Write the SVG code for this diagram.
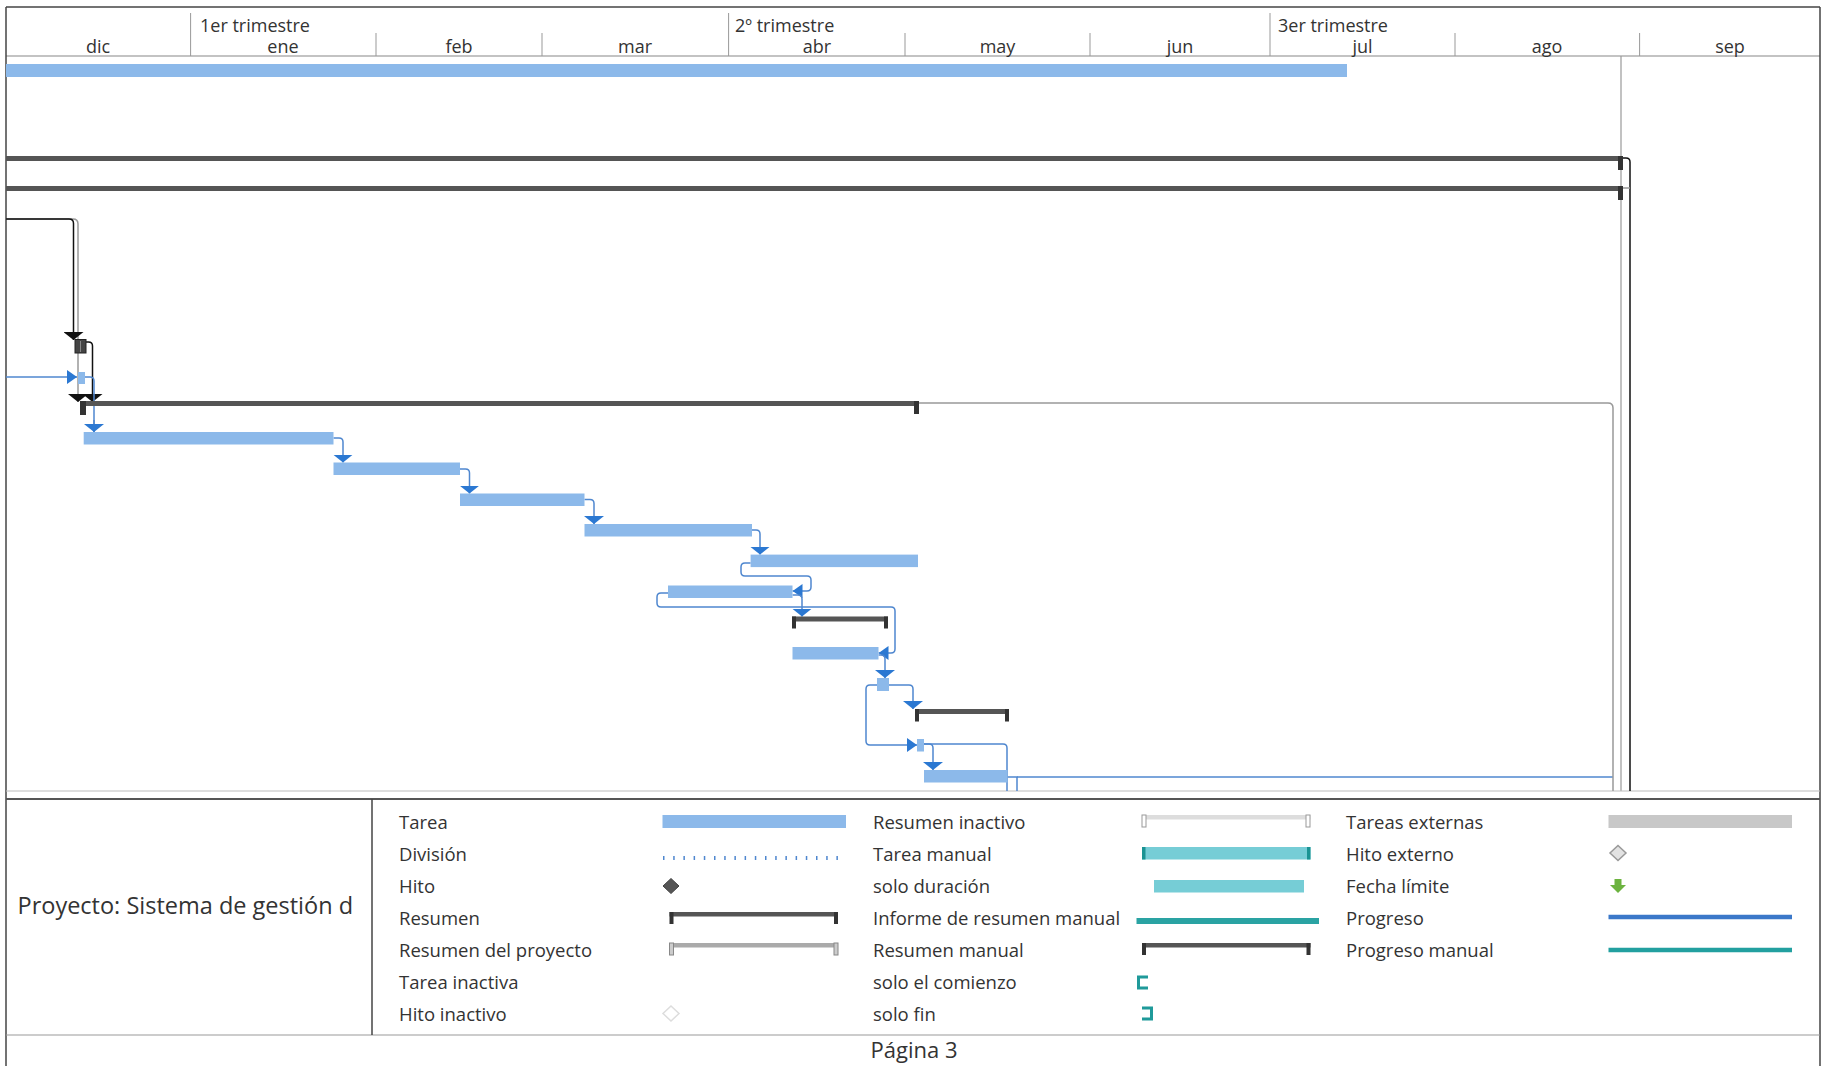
<svg xmlns="http://www.w3.org/2000/svg" width="1822" height="1066" viewBox="0 0 1822 1066">
<style>
  text { font-family: "Open Sans", "Noto Sans", "Liberation Sans", sans-serif; fill: #333; }
  .hdr { font-size: 18px; }
  .mon { font-size: 18px; text-anchor: middle; }
  .lbl { font-size: 18.5px; }
  .big { font-size: 23.5px; }
  .frame { stroke: #444; stroke-width: 1.5; fill: none; }
  .tick { stroke: #999; stroke-width: 1; }
  .bar { fill: #8cb9ea; }
  .sum { fill: #555; }
  .cap { fill: #333; }
  .lnk { stroke: #4f87cf; stroke-width: 1.5; fill: none; }
  .blk { stroke: #111; stroke-width: 1.5; fill: none; }
  .gry { stroke: #999; stroke-width: 1.5; fill: none; }
</style>
<defs>
  <!-- vertical arrowhead (blue), 20 wide x 8 long -->
  <marker id="aBv" viewBox="0 0 8 20" refX="8" refY="10" markerWidth="8" markerHeight="20" markerUnits="userSpaceOnUse" orient="auto">
    <path d="M0,0 L8,10 L0,20 Z" fill="#2b78d2"/>
  </marker>
  <!-- horizontal arrowhead (blue), narrower -->
  <marker id="aBh" viewBox="0 0 10 14" refX="10" refY="7" markerWidth="10" markerHeight="14" markerUnits="userSpaceOnUse" orient="auto">
    <path d="M0,0 L10,7 L0,14 Z" fill="#2b78d2"/>
  </marker>
  <!-- black arrowhead -->
  <marker id="aK" viewBox="0 0 8 20" refX="8" refY="10" markerWidth="8" markerHeight="20" markerUnits="userSpaceOnUse" orient="auto">
    <path d="M0,0 L8,10 L0,20 Z" fill="#111"/>
  </marker>
</defs>

<rect x="0" y="0" width="1822" height="1066" fill="#fff"/>

<!-- timescale -->
<g id="timescale">
  <line class="frame" x1="6" y1="7" x2="1820" y2="7"/>
  <line x1="6" y1="56" x2="1820" y2="56" stroke="#888" stroke-width="1.2"/>
  <g class="tick">
    <line x1="190.6" y1="13" x2="190.6" y2="56"/>
    <line x1="728.6" y1="13" x2="728.6" y2="56"/>
    <line x1="1270" y1="13" x2="1270" y2="56"/>
    <line x1="376" y1="33" x2="376" y2="56"/>
    <line x1="542" y1="33" x2="542" y2="56"/>
    <line x1="905" y1="33" x2="905" y2="56"/>
    <line x1="1090" y1="33" x2="1090" y2="56"/>
    <line x1="1455" y1="33" x2="1455" y2="56"/>
    <line x1="1639.6" y1="33" x2="1639.6" y2="56"/>
  </g>
  <text class="hdr" x="200" y="32">1er trimestre</text>
  <text class="hdr" x="735" y="32">2º trimestre</text>
  <text class="hdr" x="1278" y="32">3er trimestre</text>
  <text class="mon" x="98" y="53">dic</text>
  <text class="mon" x="283" y="53">ene</text>
  <text class="mon" x="459" y="53">feb</text>
  <text class="mon" x="635" y="53">mar</text>
  <text class="mon" x="817" y="53">abr</text>
  <text class="mon" x="997.5" y="53">may</text>
  <text class="mon" x="1180" y="53">jun</text>
  <text class="mon" x="1362.5" y="53">jul</text>
  <text class="mon" x="1547" y="53">ago</text>
  <text class="mon" x="1730" y="53">sep</text>
</g>

<!-- page frame -->
<g id="frame">
  <line class="frame" x1="6" y1="7" x2="6" y2="1066"/>
  <line class="frame" x1="1820" y1="7" x2="1820" y2="1066"/>
  <line x1="1621" y1="56" x2="1621" y2="791" stroke="#999" stroke-width="1.2"/>
  <line x1="6" y1="791" x2="1820" y2="791" stroke="#bbb" stroke-width="1.2"/>
</g>

<!-- links -->
<g id="connectors">
  <!-- black links from above -->
  <path class="gry" d="M6,219 H73 Q78,219 78,224 V402" marker-end="url(#aK)"/>
  <path class="blk" d="M6,219 H69 Q73.5,219 73.5,223.5 V340" marker-end="url(#aK)"/>
  <path class="blk" d="M86,342 H88.5 Q92.5,342 92.5,346 V402" marker-end="url(#aK)"/>
  <!-- blue links -->
  <path class="lnk" d="M6,377 H77" marker-end="url(#aBh)"/>
  <path class="lnk" d="M85,377 H90 Q94,377 94,381 V432"/>
  <path class="lnk" d="M94,420 V432" marker-end="url(#aBv)"/>
  <path class="lnk" d="M333.5,438 H339 Q343,438 343,442 V462.5" marker-end="url(#aBv)"/>
  <path class="lnk" d="M460,469 H465.5 Q469.5,469 469.5,473 V493.5" marker-end="url(#aBv)"/>
  <path class="lnk" d="M584.5,499.5 H590 Q594,499.5 594,503.5 V524" marker-end="url(#aBv)"/>
  <path class="lnk" d="M752,530 H756 Q760,530 760,534 V554.6" marker-end="url(#aBv)"/>
  <path class="lnk" d="M750.6,563 H745 Q741,563 741,567 V572 Q741,576 745,576 H807 Q811,576 811,580 V587 Q811,591 807,591 H792.5" marker-end="url(#aBh)"/>
  <path class="lnk" d="M668,593 H661 Q657,593 657,597 V603 Q657,607 661,607 H891 Q895,607 895,611 V649 Q895,653 891,653 H878.5" marker-end="url(#aBh)"/>
  <path class="lnk" d="M792.5,595 H798 Q802,595 802,599 V616.5" marker-end="url(#aBv)"/>
  <path class="lnk" d="M878.5,655 H881 Q885,655 885,659 V678" marker-end="url(#aBv)"/>
  <path class="lnk" d="M889,685 H909 Q913,685 913,689 V709" marker-end="url(#aBv)"/>
  <path class="lnk" d="M877,685 H870 Q866,685 866,689 V741 Q866,745 870,745 H917" marker-end="url(#aBh)"/>
  <path class="lnk" d="M924,744 H929 Q933,744 933,748 V770" marker-end="url(#aBv)"/>
  <path class="lnk" d="M924,744 H1003 Q1007,744 1007,748 V791" stroke="#7f9fcf"/>
  <path class="lnk" d="M1007.5,777 H1017 V791" stroke="#8aa4cc"/>
  <path class="lnk" d="M1017,777 H1613" stroke="#9fb2d4"/>
  <!-- long link from summary end -->
  <path class="gry" d="M919,403 H1608 Q1613,403 1613,408 V791" stroke-width="2"/>
  <!-- links from top summaries -->
  <path class="blk" d="M1623,158 H1626 Q1630,158 1630,162 V791"/>
  <path class="gry" d="M1623,188 H1630"/>
</g>

<!-- rows -->
<g id="row0"><rect class="bar" x="6" y="64" width="1341" height="13"/></g>
<g id="row3">
  <rect class="sum" x="6" y="156" width="1617" height="5"/>
  <rect class="cap" x="1618" y="156" width="5" height="14"/>
</g>
<g id="row4">
  <rect class="sum" x="6" y="186" width="1617" height="5"/>
  <rect class="cap" x="1618" y="186" width="5" height="14"/>
</g>
<g id="row9">
  <rect x="75" y="339.5" width="11" height="13.5" fill="#444" stroke="#222" stroke-width="1"/>
  <line x1="80.5" y1="341" x2="80.5" y2="352" stroke="#888" stroke-width="1"/>
</g>
<g id="row10"><rect x="78" y="372" width="7" height="12" fill="#8cb9ea"/></g>
<g id="row11">
  <rect class="sum" x="80" y="401" width="839" height="5"/>
  <rect class="cap" x="80" y="401" width="6" height="14"/>
  <rect class="cap" x="914" y="401" width="5" height="13"/>
</g>
<g id="row12"><rect class="bar" x="83.7" y="432" width="249.8" height="12.5"/></g>
<g id="row13"><rect class="bar" x="333.5" y="462.5" width="126.5" height="12.5"/></g>
<g id="row14"><rect class="bar" x="460" y="493.5" width="124.5" height="12.5"/></g>
<g id="row15"><rect class="bar" x="584.5" y="524" width="167.5" height="12.5"/></g>
<g id="row16"><rect class="bar" x="750.6" y="554.6" width="167.4" height="12.5"/></g>
<g id="row17"><rect class="bar" x="668" y="585.5" width="124.5" height="12.5"/></g>
<g id="row18">
  <rect class="sum" x="792" y="616.5" width="96" height="5"/>
  <rect class="cap" x="792" y="616.5" width="4" height="12"/>
  <rect class="cap" x="884" y="616.5" width="4" height="12"/>
</g>
<g id="row19"><rect class="bar" x="792.5" y="647" width="86" height="12.5"/></g>
<g id="row20"><rect class="bar" x="877" y="678" width="12" height="13"/></g>
<g id="row21">
  <rect class="sum" x="915" y="709" width="94" height="5"/>
  <rect class="cap" x="915" y="709" width="4" height="12.5"/>
  <rect class="cap" x="1005" y="709" width="4" height="12.5"/>
</g>
<g id="row22"><rect class="bar" x="917" y="739" width="7" height="12.5"/></g>
<g id="row23"><rect class="bar" x="924" y="770" width="83.5" height="12.5"/></g>

<!-- legend -->
<g id="legend">
  <line x1="6" y1="799" x2="1820" y2="799" stroke="#555" stroke-width="2"/>
  <line x1="6" y1="1035" x2="1820" y2="1035" stroke="#999" stroke-width="1.2"/>
  <line x1="372" y1="799" x2="372" y2="1035" stroke="#444" stroke-width="1.5"/>
  <text class="big" x="17.5" y="914">Proyecto: Sistema de gestión d</text>

  <text class="lbl" x="399" y="829">Tarea</text>
  <text class="lbl" x="399" y="861">División</text>
  <text class="lbl" x="399" y="893">Hito</text>
  <text class="lbl" x="399" y="925">Resumen</text>
  <text class="lbl" x="399" y="957">Resumen del proyecto</text>
  <text class="lbl" x="399" y="989">Tarea inactiva</text>
  <text class="lbl" x="399" y="1021">Hito inactivo</text>

  <rect class="bar" x="662.5" y="815" width="183.5" height="13"/>
  <line x1="663" y1="858" x2="846" y2="858" stroke="#4f87cf" stroke-width="4" stroke-dasharray="1.5 8.7"/>
  <path d="M671,878.5 L679,886 L671,893.5 L663,886 Z" fill="#555" stroke="#444" stroke-width="1"/>
  <rect class="sum" x="669.5" y="912" width="168.5" height="4.5"/>
  <rect class="cap" x="669.5" y="912" width="4" height="12"/>
  <rect class="cap" x="834" y="912" width="4" height="12"/>
  <rect x="669.5" y="943" width="168.5" height="4.5" fill="#aaa"/>
  <rect x="669.5" y="943" width="4" height="12" fill="#ccc" stroke="#888" stroke-width="1"/>
  <rect x="834" y="943" width="4" height="12" fill="#ccc" stroke="#888" stroke-width="1"/>
  <path d="M671,1006 L679,1013.5 L671,1021 L663,1013.5 Z" fill="#fff" stroke="#ddd" stroke-width="1.5"/>

  <text class="lbl" x="873" y="829">Resumen inactivo</text>
  <text class="lbl" x="873" y="861">Tarea manual</text>
  <text class="lbl" x="873" y="893">solo duración</text>
  <text class="lbl" x="873" y="925">Informe de resumen manual</text>
  <text class="lbl" x="873" y="957">Resumen manual</text>
  <text class="lbl" x="873" y="989">solo el comienzo</text>
  <text class="lbl" x="873" y="1021">solo fin</text>

  <rect x="1142" y="815" width="168.5" height="4.5" fill="#ddd"/>
  <rect x="1142" y="815" width="4" height="12" fill="#fff" stroke="#999" stroke-width="1"/>
  <rect x="1306" y="815" width="4" height="12" fill="#fff" stroke="#999" stroke-width="1"/>
  <rect x="1142" y="847" width="168.5" height="12.5" fill="#76cdd6"/>
  <rect x="1142" y="847" width="3.5" height="12.5" fill="#1a9393"/>
  <rect x="1307" y="847" width="3.5" height="12.5" fill="#1a9393"/>
  <rect x="1154" y="880" width="150" height="12.5" fill="#76cdd6"/>
  <rect x="1136.5" y="918" width="182.5" height="6" fill="#2aa3a3"/>
  <rect class="sum" x="1142" y="943" width="168.5" height="4.5"/>
  <rect class="cap" x="1142" y="943" width="4" height="12"/>
  <rect class="cap" x="1306.5" y="943" width="4" height="12"/>
  <path d="M1148,977 H1138.5 V988 H1148" fill="none" stroke="#1f9a9a" stroke-width="3"/>
  <path d="M1142,1008 H1151.5 V1019 H1142" fill="none" stroke="#1f9a9a" stroke-width="3"/>

  <text class="lbl" x="1346" y="829">Tareas externas</text>
  <text class="lbl" x="1346" y="861">Hito externo</text>
  <text class="lbl" x="1346" y="893">Fecha límite</text>
  <text class="lbl" x="1346" y="925">Progreso</text>
  <text class="lbl" x="1346" y="957">Progreso manual</text>

  <rect x="1608.5" y="815" width="183.5" height="13" fill="#c8c8c8"/>
  <path d="M1618,845.5 L1626,853 L1618,860.5 L1610,853 Z" fill="#e2e2e2" stroke="#999" stroke-width="1.5"/>
  <path d="M1614.5,879 H1621.5 V885 H1626 L1618,893 L1610,885 H1614.5 Z" fill="#6cb33f"/>
  <line x1="1608.5" y1="917" x2="1792" y2="917" stroke="#3b78c9" stroke-width="4.5"/>
  <line x1="1608.5" y1="950" x2="1792" y2="950" stroke="#22a0a0" stroke-width="4.5"/>
</g>

<g id="footer">
  <text x="914" y="1058" text-anchor="middle" font-size="22px">Página 3</text>
</g>
</svg>
